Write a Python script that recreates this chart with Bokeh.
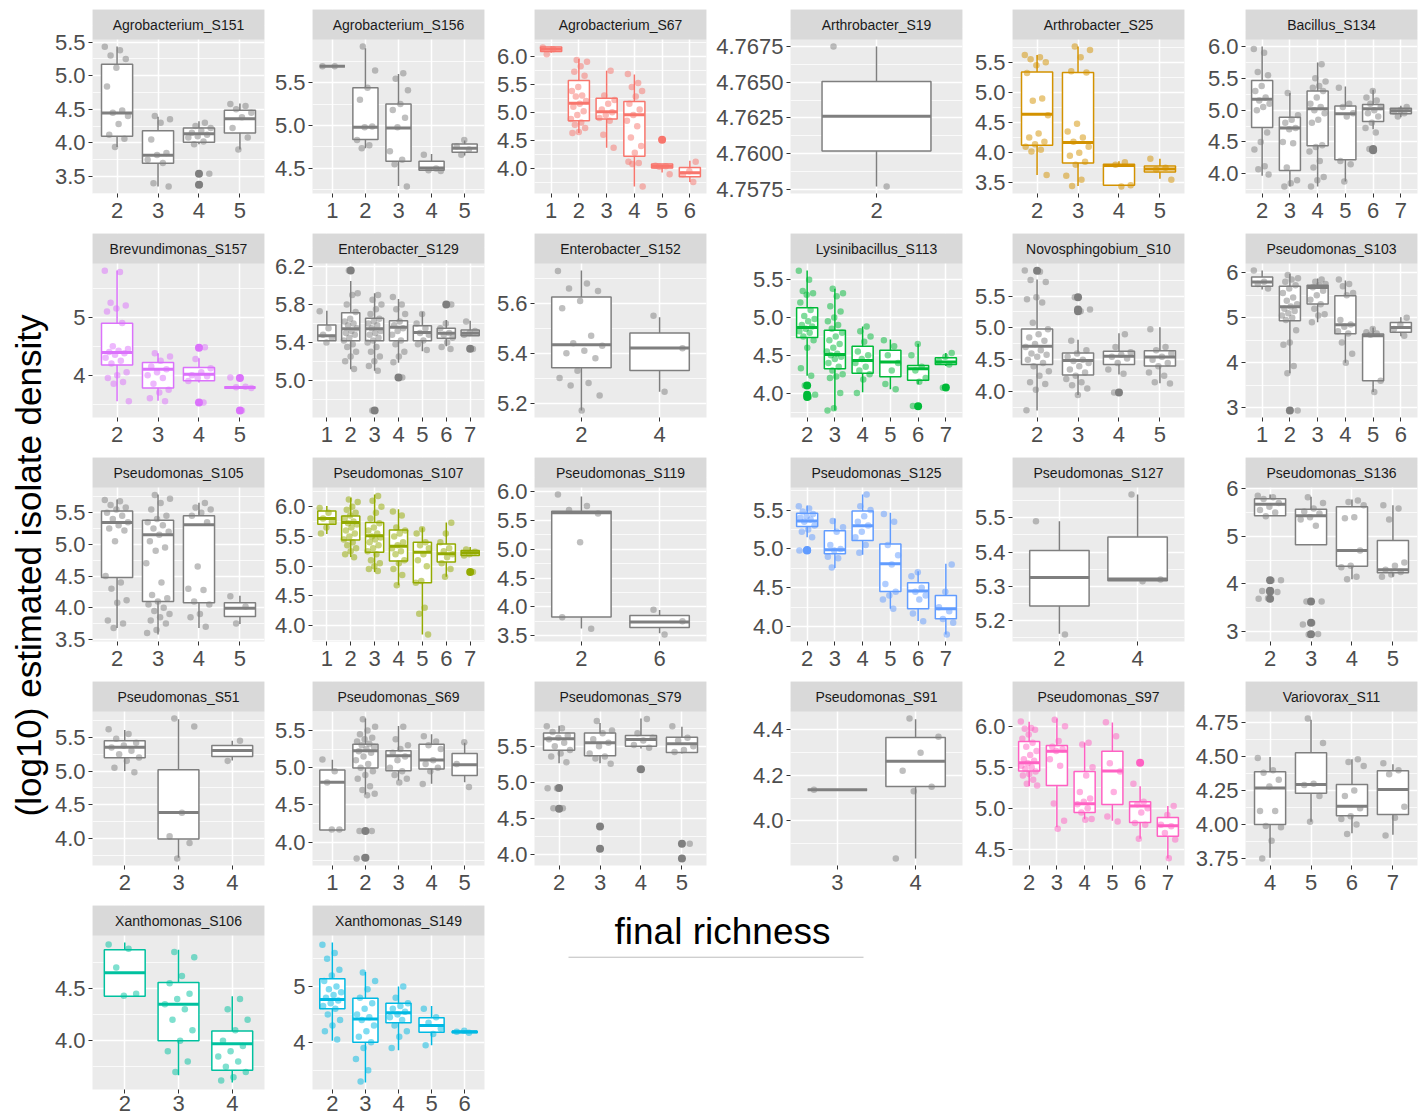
import math
from bokeh.plotting import figure
from bokeh.models import Range1d, FixedTicker, PrintfTickFormatter, Label, ColumnDataSource
from bokeh.layouts import row, column
from bokeh.embed import file_html
from bokeh.resources import INLINE

# ---------------- data ----------------
names = ["Agrobacterium_S151", "Agrobacterium_S156", "Agrobacterium_S67", "Arthrobacter_S19", "Arthrobacter_S25", "Bacillus_S134",
         "Brevundimonas_S157", "Enterobacter_S129", "Enterobacter_S152", "Lysinibacillus_S113", "Novosphingobium_S10", "Pseudomonas_S103",
         "Pseudomonas_S105", "Pseudomonas_S107", "Pseudomonas_S119", "Pseudomonas_S125", "Pseudomonas_S127", "Pseudomonas_S136",
         "Pseudomonas_S51", "Pseudomonas_S69", "Pseudomonas_S79", "Pseudomonas_S91", "Pseudomonas_S97", "Variovorax_S11",
         "Xanthomonas_S106", "Xanthomonas_S149"]

G = "#7F7F7F"
colors = [G, G, "#F8766D", G, "#D39200", G,
          "#DB72FB", G, G, "#00BA38", G, G,
          G, "#93AA00", G, "#619CFF", G, G,
          G, G, G, G, "#FF61C3", G,
          "#00C19F", "#00B9E3"]

yticks = [["3.5", "4.0", "4.5", "5.0", "5.5"], ["4.5", "5.0", "5.5"], ["4.0", "4.5", "5.0", "5.5", "6.0"],
          ["4.7575", "4.7600", "4.7625", "4.7650", "4.7675"], ["3.5", "4.0", "4.5", "5.0", "5.5"], ["4.0", "4.5", "5.0", "5.5", "6.0"],
          ["4", "5"], ["5.0", "5.4", "5.8", "6.2"], ["5.2", "5.4", "5.6"], ["4.0", "4.5", "5.0", "5.5"], ["4.0", "4.5", "5.0", "5.5"], ["3", "4", "5", "6"],
          ["3.5", "4.0", "4.5", "5.0", "5.5"], ["4.0", "4.5", "5.0", "5.5", "6.0"], ["3.5", "4.0", "4.5", "5.0", "5.5", "6.0"],
          ["4.0", "4.5", "5.0", "5.5"], ["5.2", "5.3", "5.4", "5.5"], ["3", "4", "5", "6"],
          ["4.0", "4.5", "5.0", "5.5"], ["4.0", "4.5", "5.0", "5.5"], ["4.0", "4.5", "5.0", "5.5"], ["4.0", "4.2", "4.4"],
          ["4.5", "5.0", "5.5", "6.0"], ["3.75", "4.00", "4.25", "4.50", "4.75"],
          ["4.0", "4.5"], ["4", "5"]]

cats = [["2", "3", "4", "5"], ["1", "2", "3", "4", "5"], ["1", "2", "3", "4", "5", "6"], ["2"], ["2", "3", "4", "5"], ["2", "3", "4", "5", "6", "7"],
        ["2", "3", "4", "5"], ["1", "2", "3", "4", "5", "6", "7"], ["2", "4"], ["2", "3", "4", "5", "6", "7"], ["2", "3", "4", "5"], ["1", "2", "3", "4", "5", "6"],
        ["2", "3", "4", "5"], ["1", "2", "3", "4", "5", "6", "7"], ["2", "6"], ["2", "3", "4", "5", "6", "7"], ["2", "4"], ["2", "3", "4", "5"],
        ["2", "3", "4"], ["1", "2", "3", "4", "5"], ["2", "3", "4", "5"], ["3", "4"], ["2", "3", "4", "5", "6", "7"], ["4", "5", "6", "7"],
        ["2", "3", "4"], ["2", "3", "4", "5", "6"]]

w_lo = [[3.94, 3.35, 3.98, 3.90], [5.69, 4.735, 4.295, 4.48, 4.65], [6.06, 4.63, 4.37, 3.68, 3.93, 3.76], [4.75769], [3.63, 3.45, 3.45, 3.57], [3.97, 3.80, 3.80, 3.88, 4.70, 4.89],
        [3.549, 3.56, 3.874, 3.789], [5.417, 5.115, 5.10, 5.185, 5.306, 5.358, 5.47], [5.17, 5.245], [4.23, 3.77, 4.01, 4.05, 4.118, 4.36], [3.706, 3.948, 4.27, 4.134], [5.63, 3.77, 4.90, 4.0, 3.35, 4.59],
        [3.682, 3.578, 3.682, 3.744], [5.54, 5.152, 4.903, 4.68, 3.85, 4.82, 5.18], [3.625, 3.54], [5.149, 4.756, 4.925, 4.232, 4.072, 3.90], [5.162, 5.317], [5.428, 4.82, 4.10, 4.15],
        [5.0, 3.71, 5.157], [4.164, 4.64, 4.827, 4.783, 4.805], [5.264, 5.264, 5.47, 5.40], [4.137, 3.835], [5.268, 4.768, 4.868, 4.848, 4.628, 4.388], [3.755, 4.02, 3.936, 3.924],
        [4.425, 3.67, 3.60], [4.03, 3.28, 3.86, 3.95, 4.17]]
w_q1 = [[4.10, 3.695, 4.01, 4.145], [5.69, 4.837, 4.583, 4.48, 4.69], [6.08, 4.85, 4.88, 4.22, 4.01, 3.855], [4.76018], [4.123, 3.83, 3.46, 3.68], [4.727, 4.05, 4.44, 4.22, 4.82, 4.945],
        [4.177, 3.777, 3.903, 3.789], [5.417, 5.417, 5.417, 5.417, 5.417, 5.445, 5.47], [5.342, 5.331], [4.737, 4.323, 4.262, 4.218, 4.17, 4.38], [4.428, 4.263, 4.428, 4.402], [5.70, 4.932, 5.305, 4.647, 3.60, 4.676],
        [4.477, 4.097, 4.08, 3.863], [5.706, 5.44, 5.235, 5.086, 4.72, 5.07, 5.18], [3.822, 3.642], [5.289, 4.938, 5.107, 4.452, 4.232, 4.101], [5.243, 5.317], [5.428, 4.82, 4.372, 4.234],
        [5.196, 3.99, 5.216], [4.164, 4.996, 4.96, 4.982, 4.894], [5.445, 5.368, 5.50, 5.414], [4.137, 4.151], [5.456, 5.28, 4.948, 5.048, 4.828, 4.66], [4.0, 4.23, 4.064, 4.074],
        [4.425, 4.0, 3.717], [4.60, 4.0, 4.35, 4.18, 4.17]]
w_med = [[4.445, 3.815, 4.135, 4.36], [5.69, 4.98, 4.97, 4.505, 4.735], [6.12, 5.16, 5.01, 4.955, 4.04, 3.925], [4.76261], [4.637, 4.17, 3.79, 3.73], [5.17, 4.72, 5.02, 4.945, 5.02, 4.99],
         [4.389, 4.10, 4.017, 3.789], [5.47, 5.543, 5.543, 5.56, 5.504, 5.497, 5.497], [5.434, 5.421], [4.868, 4.51, 4.432, 4.41, 4.323, 4.41], [4.711, 4.49, 4.557, 4.546], [5.795, 5.247, 5.67, 4.844, 4.603, 4.786],
         [5.344, 5.152, 5.31, 3.993], [5.80, 5.734, 5.51, 5.335, 5.235, 5.21, 5.224], [5.632, 3.738], [5.36, 4.989, 5.297, 4.811, 4.46, 4.232], [5.326, 5.322], [5.669, 5.428, 4.703, 4.30],
         [5.353, 4.383, 5.304], [4.805, 5.226, 5.16, 5.102, 5.04], [5.605, 5.55, 5.595, 5.536], [4.137, 4.262], [5.556, 5.696, 5.056, 5.456, 5.028, 4.788], [4.269, 4.294, 4.134, 4.257],
         [4.65, 4.35, 3.97], [4.77, 4.42, 4.53, 4.30, 4.19]]
w_q3 = [[5.17, 4.18, 4.22, 4.485], [5.69, 5.44, 5.25, 4.583, 4.784], [6.16, 5.565, 5.25, 5.19, 4.08, 4.02], [4.76505], [5.336, 5.33, 3.81, 3.78], [5.465, 4.89, 5.30, 5.065, 5.09, 5.03],
        [4.897, 4.217, 4.131, 3.789], [5.584, 5.713, 5.654, 5.63, 5.577, 5.55, 5.53], [5.626, 5.481], [5.13, 4.83, 4.62, 4.567, 4.366, 4.467], [4.985, 4.608, 4.634, 4.644], [5.905, 5.70, 5.72, 5.488, 4.64, 4.895],
        [5.526, 5.38, 5.45, 4.08], [5.928, 5.845, 5.734, 5.607, 5.40, 5.374, 5.263], [5.66, 3.85], [5.458, 5.234, 5.487, 5.065, 4.566, 4.401], [5.405, 5.444], [5.786, 5.566, 5.62, 4.91],
        [5.451, 5.02, 5.378], [4.969, 5.314, 5.226, 5.314, 5.19], [5.686, 5.686, 5.65, 5.627], [4.137, 4.367], [5.816, 5.768, 5.448, 5.696, 5.08, 4.888], [4.388, 4.528, 4.294, 4.395],
        [4.87, 4.557, 4.094], [5.14, 4.79, 4.70, 4.44, 4.20]]
w_hi = [[5.435, 4.39, 4.32, 4.585], [5.69, 5.90, 5.60, 4.667, 4.826], [6.17, 5.95, 5.74, 5.67, 4.08, 4.14], [4.7675], [5.62, 5.76, 3.86, 3.90], [6.0, 5.27, 5.75, 5.37, 5.32, 5.07],
        [5.806, 4.38, 4.29, 3.789], [5.734, 6.05, 5.92, 5.86, 5.723, 5.636, 5.63], [5.732, 5.544], [5.622, 5.38, 4.88, 4.71, 4.654, 4.53], [5.758, 4.815, 4.917, 5.01], [6.05, 5.978, 5.87, 5.83, 4.786, 5.01],
        [5.708, 5.786, 5.656, 4.19], [6.01, 6.15, 6.205, 5.956, 5.65, 5.734, 5.32], [5.915, 3.947], [5.56, 5.39, 5.70, 5.466, 4.714, 4.811], [5.49, 5.568], [5.876, 5.83, 5.77, 5.648],
        [5.608, 5.77, 5.451], [5.106, 5.66, 5.558, 5.447, 5.336], [5.786, 5.823, 5.886, 5.773], [4.137, 4.447], [6.056, 6.096, 5.80, 6.048, 5.268, 5.028], [4.497, 4.77, 4.48, 4.443],
        [4.94, 4.87, 4.425], [5.79, 5.26, 5.0, 4.65, 4.21]]

outliers = [[[], [], [3.54, 3.375], []], [[], [], [], [], []], [[], [], [], [], [4.51], []], [[]], [[], [], [], []], [[], [], [], [], [4.39, 4.37], []],
            [[], [], [4.474, 3.53], [3.95, 3.39]], [[], [6.16], [4.68], [5.03], [], [5.80], [5.334]], [[], []], [[4.10, 3.98, 3.95], [], [], [], [3.826], [4.074]],
            [[5.897], [5.48, 5.29, 5.26], [3.99], []], [[], [2.94], [], [], [], []],
            [[], [], [], []], [[], [], [], [], [], [], [4.90]], [[], []], [[4.98, 4.985], [], [], [], [], []], [[], []], [[4.08, 3.855, 3.84, 3.69], [3.634, 3.186, 2.945], [], []],
            [[], [], []], [[], [4.15, 3.79], [], [], []], [[4.923, 4.636], [4.39, 4.08], [5.182], [4.15, 3.945]], [[], []], [[], [], [], [], [5.556], []], [[], [], [], []],
            [[], [], []], [[], [], [], [], []]]

points = [
    [[5.43, 5.38, 5.30, 5.25, 5.12, 4.84, 4.48, 4.45, 4.40, 4.28, 4.12, 4.06, 3.94],
     [4.40, 4.35, 4.30, 4.05, 3.85, 3.82, 3.75, 3.70, 3.40, 3.35],
     [4.30, 4.25, 4.22, 4.18, 4.15, 4.12, 4.10, 4.08, 4.02, 3.98, 3.54, 3.38],
     [4.58, 4.55, 4.50, 4.45, 4.38, 4.22, 4.08, 3.90]],
    [[5.69, 5.69], [5.92, 5.64, 5.44, 5.30, 4.99, 4.98, 4.83, 4.77, 4.735],
     [5.61, 5.545, 5.41, 5.25, 5.18, 5.09, 4.98, 4.70, 4.60, 4.55, 4.29], [4.66, 4.50, 4.48, 4.47], [4.83, 4.76, 4.72, 4.66]],
    [[6.15, 6.12, 6.03],
     [5.93, 5.90, 5.82, 5.72, 5.65, 5.45, 5.38, 5.30, 5.28, 5.20, 5.15, 5.10, 5.02, 4.95, 4.88, 4.82, 4.78, 4.72, 4.65, 4.63],
     [5.74, 5.30, 5.22, 5.15, 5.05, 5.00, 4.95, 4.90, 4.85, 4.60, 4.37],
     [5.68, 5.52, 5.45, 5.38, 5.28, 5.15, 5.05, 4.95, 4.85, 4.75, 4.55, 4.40, 4.28, 4.12, 4.10, 4.08, 3.68],
     [4.51, 4.05, 4.04, 4.03, 3.90], [4.12, 3.95, 3.90, 3.76]],
    [[4.7675, 4.75769]],
    [[5.62, 5.58, 5.55, 5.50, 5.45, 5.32, 4.90, 4.86, 4.62, 4.32, 4.25, 4.18, 4.14, 4.10, 4.05, 4.02, 3.63],
     [5.76, 5.70, 5.58, 5.35, 5.33, 4.48, 4.35, 4.25, 4.18, 4.10, 4.00, 3.95, 3.85, 3.80, 3.62, 3.55, 3.45],
     [3.84, 3.80, 3.46, 3.44], [3.90, 3.75, 3.72, 3.55]],
    [[5.96, 5.90, 5.60, 5.55, 5.38, 5.30, 5.20, 5.15, 5.10, 5.05, 5.00, 4.65, 4.50, 4.38, 4.12, 4.07, 3.99],
     [5.27, 4.92, 4.85, 4.80, 4.72, 4.70, 4.50, 4.48, 4.10, 3.90, 3.85, 3.80],
     [5.72, 5.50, 5.45, 5.38, 5.35, 5.30, 5.20, 5.10, 5.05, 5.00, 4.95, 4.85, 4.80, 4.45, 4.42, 4.35, 4.20, 4.10, 3.95, 3.90, 3.80],
     [5.35, 5.10, 5.05, 4.95, 4.90, 4.20, 4.15, 3.88],
     [5.30, 5.20, 5.15, 5.10, 5.05, 5.00, 4.95, 4.90, 4.80, 4.72, 4.65, 4.39],
     [5.05, 5.00, 4.98, 4.95, 4.90]],
    [[5.80, 5.78, 5.25, 5.20, 5.15, 5.10, 4.90, 4.50, 4.45, 4.42, 4.40, 4.38, 4.35, 4.30, 4.25, 4.20, 4.05, 4.00, 3.95, 3.88, 3.85, 3.55],
     [4.38, 4.32, 4.25, 4.15, 4.10, 4.05, 4.00, 3.95, 3.85, 3.75, 3.70, 3.60, 3.55],
     [4.48, 4.28, 4.12, 4.05, 4.00, 3.98, 3.95, 3.90, 3.53], [3.96, 3.80, 3.79, 3.78, 3.39]],
    [[5.73, 5.55, 5.48, 5.45, 5.40],
     [6.16, 5.92, 5.90, 5.80, 5.72, 5.65, 5.62, 5.60, 5.58, 5.55, 5.52, 5.50, 5.48, 5.45, 5.42, 5.38, 5.35, 5.30, 5.25, 5.20, 5.12],
     [5.90, 5.85, 5.80, 5.75, 5.70, 5.65, 5.62, 5.60, 5.58, 5.55, 5.52, 5.50, 5.48, 5.45, 5.42, 5.40, 5.35, 5.30, 5.25, 5.20, 5.15, 5.10, 4.68],
     [5.88, 5.80, 5.75, 5.70, 5.62, 5.58, 5.55, 5.52, 5.48, 5.42, 5.38, 5.30, 5.25, 5.19, 5.03],
     [5.70, 5.60, 5.55, 5.50, 5.48, 5.42, 5.38, 5.32],
     [5.80, 5.60, 5.55, 5.50, 5.48, 5.45, 5.40, 5.35, 5.33],
     [5.62, 5.52, 5.50, 5.48, 5.33]],
    [[5.73, 5.68, 5.66, 5.65, 5.61, 5.58, 5.47, 5.44, 5.43, 5.41, 5.40, 5.38, 5.33, 5.30, 5.28, 5.27, 5.23, 5.17], [5.55, 5.42, 5.245]],
    [[5.62, 5.50, 5.35, 5.32, 5.30, 5.20, 5.10, 5.02, 4.98, 4.95, 4.90, 4.88, 4.85, 4.82, 4.80, 4.75, 4.70, 4.60, 4.33, 4.23, 4.10, 3.98, 3.95],
     [5.38, 5.32, 5.28, 5.15, 5.08, 5.00, 4.95, 4.90, 4.85, 4.80, 4.75, 4.70, 4.65, 4.60, 4.55, 4.52, 4.50, 4.48, 4.45, 4.40, 4.35, 4.30, 4.25, 4.22, 4.20, 4.00, 3.80, 3.77],
     [4.88, 4.82, 4.75, 4.68, 4.55, 4.50, 4.45, 4.40, 4.35, 4.30, 4.25, 4.18, 4.00],
     [4.70, 4.62, 4.50, 4.40, 4.30, 4.12, 4.05], [4.65, 4.50, 4.35, 4.30, 4.20, 4.15, 3.83], [4.53, 4.48, 4.42, 4.38, 4.07]],
    [[5.90, 5.88, 5.75, 5.72, 5.48, 5.45, 5.40, 5.08, 4.98, 4.90, 4.85, 4.80, 4.75, 4.70, 4.65, 4.60, 4.58, 4.55, 4.50, 4.45, 4.40, 4.32, 4.25, 4.15, 4.12, 4.03, 3.71],
     [5.48, 5.29, 5.26, 4.80, 4.65, 4.60, 4.55, 4.50, 4.48, 4.45, 4.40, 4.35, 4.30, 4.25, 4.20, 4.15, 4.10, 4.05, 3.95],
     [4.90, 4.70, 4.62, 4.58, 4.55, 4.52, 4.45, 4.35, 4.28, 3.99],
     [4.98, 4.70, 4.65, 4.60, 4.55, 4.50, 4.45, 4.40, 4.30, 4.25, 4.15, 4.13]],
    [[6.05, 5.80, 5.75, 5.65],
     [5.95, 5.88, 5.85, 5.80, 5.72, 5.65, 5.55, 5.45, 5.38, 5.30, 5.25, 5.20, 5.15, 5.10, 5.05, 5.00, 4.95, 4.72, 4.45, 4.40, 3.93, 3.77, 2.94],
     [5.85, 5.80, 5.75, 5.72, 5.68, 5.60, 5.50, 5.40, 5.30, 5.20, 5.08, 5.05, 4.90],
     [5.85, 5.75, 5.70, 5.55, 5.50, 4.95, 4.85, 4.80, 4.70, 4.65, 4.45, 4.20, 4.00],
     [4.75, 4.68, 4.65, 4.62, 3.60, 3.35], [5.00, 4.85, 4.75, 4.60]],
    [[5.70, 5.68, 5.62, 5.58, 5.55, 5.50, 5.45, 5.40, 5.35, 5.30, 5.25, 5.22, 5.05, 4.50, 4.40, 4.30, 4.12, 4.08, 3.80, 3.75, 3.68],
     [5.78, 5.72, 5.65, 5.55, 5.45, 5.40, 5.35, 5.30, 5.25, 5.20, 5.15, 5.05, 4.95, 4.90, 4.70, 4.40, 4.20, 4.15, 4.10, 4.05, 4.00, 3.95, 3.90, 3.85, 3.80, 3.75, 3.65, 3.60],
     [5.65, 5.58, 5.55, 5.50, 5.45, 5.35, 4.65, 4.30, 4.28, 4.10, 4.05, 3.90, 3.85, 3.70],
     [4.18, 4.02, 3.75]],
    [[5.98, 5.90, 5.80, 5.75, 5.65, 5.55],
     [6.12, 6.08, 6.00, 5.95, 5.90, 5.85, 5.80, 5.75, 5.72, 5.70, 5.65, 5.60, 5.55, 5.50, 5.45, 5.40, 5.35, 5.30, 5.25, 5.20, 5.15],
     [6.18, 6.10, 6.00, 5.90, 5.80, 5.72, 5.65, 5.60, 5.55, 5.50, 5.48, 5.45, 5.40, 5.35, 5.30, 5.25, 5.20, 5.10, 5.05, 5.00, 4.95, 4.92],
     [5.92, 5.85, 5.65, 5.60, 5.55, 5.50, 5.40, 5.35, 5.30, 5.25, 5.20, 5.10, 5.05, 4.95, 4.85, 4.68],
     [5.62, 5.55, 5.40, 5.35, 5.30, 5.20, 5.10, 5.00, 4.75, 4.72, 4.30, 4.20, 3.85],
     [5.73, 5.55, 5.40, 5.30, 5.25, 5.20, 5.15, 5.05, 4.95, 4.82],
     [5.28, 5.24, 5.20, 5.18, 4.90]],
    [[5.95, 5.75, 5.68, 5.62, 5.12, 3.82, 3.62], [3.95, 3.75, 3.52]],
    [[5.55, 5.52, 5.48, 5.45, 5.42, 5.40, 5.38, 5.35, 5.30, 5.25, 5.22, 5.15, 4.98, 4.98],
     [5.36, 5.28, 5.22, 5.05, 5.00, 4.98, 4.90, 4.88, 4.76],
     [5.70, 5.55, 5.50, 5.42, 5.35, 5.30, 5.22, 5.15, 5.05, 4.95],
     [5.45, 5.35, 5.05, 4.92, 4.80, 4.55, 4.45, 4.40, 4.35, 4.23],
     [4.70, 4.65, 4.50, 4.45, 4.40, 4.35, 4.17, 4.07],
     [4.80, 4.45, 4.25, 4.20, 4.10, 4.05, 3.90]],
    [[5.49, 5.16], [5.568, 5.32, 5.315]],
    [[5.85, 5.82, 5.78, 5.70, 5.62, 5.55, 5.50, 5.42, 4.08, 4.07, 3.85, 3.83, 3.70, 3.69],
     [5.82, 5.70, 5.58, 5.52, 5.48, 5.40, 5.35, 5.22, 3.63, 3.63, 3.18, 3.15, 2.95, 2.94],
     [5.75, 5.72, 5.65, 5.40, 5.38, 4.70, 4.38, 4.35, 4.15, 4.10],
     [5.65, 5.58, 5.35, 4.45, 4.38, 4.30, 4.25, 4.20, 4.15]],
    [[5.62, 5.55, 5.48, 5.42, 5.38, 5.35, 5.30, 5.25, 5.20, 5.15, 5.05, 4.98], [5.78, 5.66, 4.38, 4.03, 3.93, 3.70], [5.45, 5.15]],
    [[5.11, 4.95, 4.80, 4.17, 4.17],
     [5.65, 5.55, 5.50, 5.45, 5.40, 5.38, 5.35, 5.32, 5.30, 5.28, 5.25, 5.22, 5.20, 5.15, 5.10, 5.05, 5.00, 4.95, 4.90, 4.85, 4.75, 4.70, 4.65, 4.63, 4.15, 4.15, 3.79, 3.78],
     [5.55, 5.38, 5.30, 5.25, 5.20, 5.15, 5.10, 5.00, 4.95, 4.90, 4.85, 4.80],
     [5.42, 5.35, 5.30, 5.25, 5.10, 5.05, 5.00, 4.95, 4.78],
     [5.34, 5.05, 4.74]],
    [[5.78, 5.75, 5.70, 5.65, 5.62, 5.60, 5.55, 5.50, 5.45, 5.40, 5.36, 5.28, 4.92, 4.92, 4.64, 4.64],
     [5.85, 5.72, 5.68, 5.60, 5.55, 5.50, 5.40, 5.36, 5.33, 5.26],
     [5.88, 5.68, 5.62, 5.58, 5.52, 5.48, 5.18],
     [5.78, 5.62, 5.58, 5.50, 5.45, 5.42, 4.15]],
    [[4.137], [4.45, 4.37, 4.30, 4.22, 4.15, 4.13, 3.835]],
    [[6.06, 5.98, 5.97, 5.96, 5.90, 5.85, 5.80, 5.75, 5.70, 5.65, 5.60, 5.58, 5.55, 5.52, 5.50, 5.48, 5.45, 5.42, 5.40, 5.35, 5.30, 5.28],
     [6.08, 6.00, 5.82, 5.75, 5.72, 5.70, 5.60, 5.52, 5.06, 4.85, 4.75],
     [5.80, 5.78, 5.50, 5.40, 5.20, 5.12, 5.08, 5.05, 5.00, 4.95, 4.87, 4.86],
     [6.05, 5.88, 5.55, 5.45, 5.20, 4.90, 4.84],
     [5.56, 5.30, 5.08, 5.05, 5.00, 4.95, 4.82, 4.80, 4.63],
     [5.03, 4.92, 4.80, 4.78, 4.70, 4.62, 4.39]],
    [[4.49, 4.40, 4.38, 4.33, 4.28, 4.10, 4.10, 3.99, 3.98, 3.88, 3.75],
     [4.78, 4.60, 4.30, 4.29, 4.21, 4.02],
     [4.48, 4.46, 4.43, 4.25, 4.21, 4.12, 4.06, 4.04, 4.00, 3.93],
     [4.45, 4.40, 4.37, 4.13, 4.05, 3.92]],
    [[4.92, 4.88, 4.70, 4.45, 4.43],
     [4.85, 4.80, 4.62, 4.55, 4.45, 4.40, 4.35, 4.30, 4.20, 4.10, 4.00, 3.90, 3.80, 3.70],
     [4.40, 4.30, 4.20, 4.10, 4.00, 3.95, 3.90, 3.85, 3.80, 3.75, 3.70, 3.65, 3.62]],
    [[5.75, 5.60, 5.50, 5.30, 5.20, 5.10, 5.00, 4.95, 4.90, 4.85, 4.80, 4.75, 4.70, 4.65, 4.60, 4.50, 4.40, 4.30, 4.20, 4.05],
     [5.25, 5.10, 4.95, 4.80, 4.70, 4.60, 4.50, 4.45, 4.40, 4.30, 4.20, 4.10, 4.00, 3.90, 3.70, 3.50, 3.30],
     [5.00, 4.80, 4.70, 4.65, 4.60, 4.55, 4.50, 4.45, 4.40, 4.30, 4.20, 4.10, 3.90],
     [4.60, 4.45, 4.35, 4.25, 4.15, 3.95],
     [4.21, 4.19, 4.17]],
]

y_title = "(log10) estimated isolate density"
x_title = "final richness"

# ---------------- styling / layout constants ----------------
FONT = "Liberation Sans"
FRAME_W = 172
PANEL_H = 154
STRIP_H = 30
ROW_TOP = [9, 2, 2, 2, 2]
ROW_BOTTOM = [38, 38, 38, 38, 31]
ROW_STANDOFF = [5, 5, 5, 5, 2]
COL_LEFT = [42, 46, 48, 82, 48, 59]
LAB_W = 50
BOX_W = 0.76


def jitter(j, k):
    # deterministic spread of the points across the category slot
    return 0.3 * (2.0 * ((j * 0.6180339887 + k * 0.37) % 1.0) - 1.0)


def make_panel(i):
    r, c = divmod(i, 6)
    cl = cats[i]
    n = len(cl)
    col = colors[i]
    allv = [v for g in points[i] for v in g] + [v for g in outliers[i] for v in g] + w_lo[i] + w_hi[i]
    vmin, vmax = min(allv), max(allv)
    pad = (vmax - vmin) * 0.05
    ylo, yhi = vmin - pad, vmax + pad
    strip = (yhi - ylo) * STRIP_H / PANEL_H
    x0, x1 = 0.4, n + 0.6

    p = figure(frame_width=FRAME_W, frame_height=PANEL_H + STRIP_H,
               x_range=Range1d(x0, x1), y_range=Range1d(ylo, yhi + strip),
               min_border_left=COL_LEFT[c], min_border_right=2, min_border_top=ROW_TOP[r],
               min_border_bottom=ROW_BOTTOM[r],
               toolbar_location=None, output_backend="svg",
               background_fill_color="#EBEBEB", border_fill_color="white",
               outline_line_color=None)

    tv = [float(t) for t in yticks[i]]
    step = tv[1] - tv[0]
    minor = [tv[0] - step / 2] + [t + step / 2 for t in tv]
    dec = max(len(t.split(".")[1]) if "." in t else 0 for t in yticks[i])
    p.yaxis.ticker = FixedTicker(ticks=tv, minor_ticks=minor)
    p.yaxis.formatter = PrintfTickFormatter(format="%." + str(dec) + "f")
    p.xaxis.ticker = FixedTicker(ticks=list(range(1, n + 1)))
    p.xaxis.major_label_overrides = {k + 1: cl[k] for k in range(n)}

    for ax in p.axis:
        ax.axis_line_color = None
        ax.major_tick_line_color = "#333333"
        ax.major_tick_line_width = 1
        ax.major_tick_out = 4
        ax.major_tick_in = 0
        ax.minor_tick_out = 0
        ax.minor_tick_in = 0
        ax.major_label_text_color = "#4D4D4D"
        ax.major_label_text_font = FONT
    p.xaxis.major_label_text_font_size = "22px"
    p.xaxis.major_label_standoff = ROW_STANDOFF[r]
    p.yaxis.major_label_text_font_size = "22px"
    p.yaxis.major_label_standoff = 3

    p.xgrid.grid_line_color = "white"
    p.xgrid.grid_line_width = 1.5
    p.ygrid.grid_line_color = "white"
    p.ygrid.grid_line_width = 1.5
    p.ygrid.minor_grid_line_color = "white"
    p.ygrid.minor_grid_line_width = 0.75

    xs = list(range(1, n + 1))
    box = ColumnDataSource(dict(
        x=xs, xl=[x - BOX_W / 2 for x in xs], xr=[x + BOX_W / 2 for x in xs],
        lo=w_lo[i], q1=w_q1[i], med=w_med[i], q3=w_q3[i], hi=w_hi[i]))
    p.segment(x0="x", y0="lo", x1="x", y1="q1", source=box, line_color=col, line_width=1.5)
    p.segment(x0="x", y0="q3", x1="x", y1="hi", source=box, line_color=col, line_width=1.5)
    p.vbar(x="x", width=BOX_W, bottom="q1", top="q3", source=box,
           fill_color="white", line_color=col, line_width=1.5)
    p.segment(x0="xl", y0="med", x1="xr", y1="med", source=box, line_color=col, line_width=3)

    ox, oy = [], []
    for k, g in enumerate(outliers[i]):
        for v in g:
            ox.append(k + 1)
            oy.append(v)
    if ox:
        p.scatter(ox, oy, size=8, fill_color=col, line_color=None)

    px, py = [], []
    for k, g in enumerate(points[i]):
        for j, v in enumerate(g):
            px.append(k + 1 + jitter(j, k))
            py.append(v)
    p.scatter(px, py, size=6.5, fill_color=col, fill_alpha=0.5, line_color=None)

    # facet strip
    p.quad(left=[x0], right=[x1], bottom=[yhi], top=[yhi + strip],
           fill_color="#D9D9D9", line_color=None)
    p.add_layout(Label(x=(x0 + x1) / 2, y=yhi + strip / 2, text=names[i],
                       text_align="center", text_baseline="middle",
                       text_font=FONT, text_font_size="14px", text_color="#1A1A1A"))
    return p


panels = [make_panel(i) for i in range(len(names))]

row_heights = [ROW_TOP[r] + PANEL_H + STRIP_H + ROW_BOTTOM[r] for r in range(5)]
total_h = sum(row_heights)
col_widths = [COL_LEFT[c] + FRAME_W + 2 for c in range(6)]
row5_top = sum(row_heights[:4])

# y-axis title
lab = figure(width=LAB_W, height=total_h, x_range=Range1d(0, LAB_W), y_range=Range1d(0, total_h),
             min_border=0, toolbar_location=None, output_backend="svg",
             x_axis_type=None, y_axis_type=None, outline_line_color=None,
             background_fill_color="white", border_fill_color="white")
lab.grid.visible = False
lab.add_layout(Label(x=28, y=total_h - 565, text=y_title, angle=math.pi / 2,
                     text_align="center", text_baseline="middle",
                     text_font=FONT, text_font_size="35px", text_color="black"))

# x-axis title in the empty part of the last row
tw = sum(col_widths[2:])
th = row_heights[4]
tit = figure(width=tw, height=th, x_range=Range1d(0, tw), y_range=Range1d(0, th),
             min_border=0, toolbar_location=None, output_backend="svg",
             x_axis_type=None, y_axis_type=None, outline_line_color=None,
             background_fill_color="white", border_fill_color="white")
tit.grid.visible = False
tit.add_layout(Label(x=236, y=th - (934 - row5_top), text=x_title, text_align="center", text_baseline="middle",
                     text_font=FONT, text_font_size="37px", text_color="black"))
tit.segment(x0=[82], y0=[th - (964 - row5_top)], x1=[377], y1=[th - (964 - row5_top)],
            line_color="#BDBDBD", line_width=1)

rows = []
for r in range(5):
    kids = panels[r * 6:(r + 1) * 6]
    if r == 4:
        kids = kids + [tit]
    rows.append(row(*kids))

layout = row(lab, column(*rows))

open("out.html", "w").write(file_html(layout, INLINE))
